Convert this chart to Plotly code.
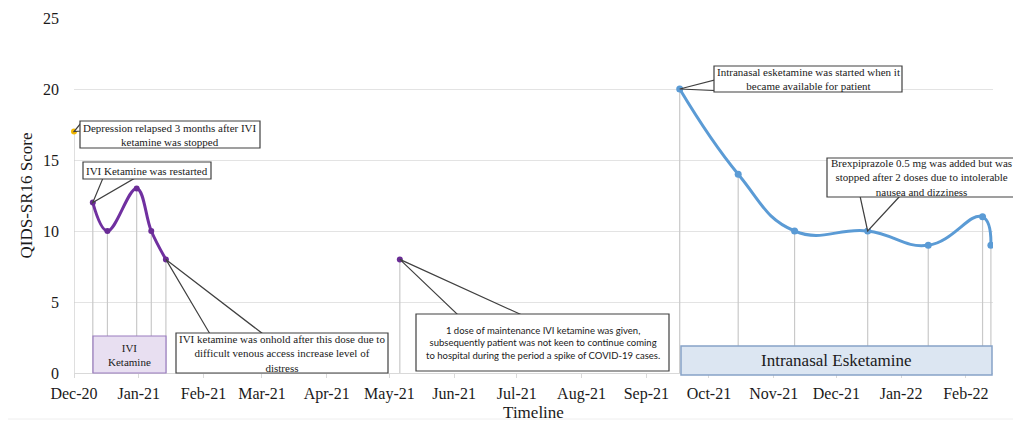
import plotly.graph_objects as go
import pandas as pd

# ---------------- data ----------------
relapse_dates = ["2020-12-01"]
relapse_scores = [17]

ivi_dates = ["2020-12-10", "2020-12-17", "2020-12-31", "2021-01-07", "2021-01-14"]
ivi_scores = [12, 10, 13, 10, 8]

maint_dates = ["2021-05-06"]
maint_scores = [8]

esk_dates = ["2021-09-17", "2021-10-15", "2021-11-11", "2021-12-16",
             "2022-01-14", "2022-02-09", "2022-02-13"]
esk_scores = [20, 14, 10, 10, 9, 11, 9]

tick_dates = ["2020-12-01", "2021-01-01", "2021-02-01", "2021-03-01", "2021-04-01",
              "2021-05-01", "2021-06-01", "2021-07-01", "2021-08-01", "2021-09-01",
              "2021-10-01", "2021-11-01", "2021-12-01", "2022-01-01", "2022-02-01"]
tick_labels = ["Dec-20", "Jan-21", "Feb-21", "Mar-21", "Apr-21", "May-21", "Jun-21",
               "Jul-21", "Aug-21", "Sep-21", "Oct-21", "Nov-21", "Dec-21", "Jan-22", "Feb-22"]

x_start, x_end = "2020-12-01", "2022-02-14"
y_max = 25

# ---------------- layout geometry (page pixels, page has 8px body margin) ----------------
OFF = 8
W, H = 1021 - OFF, 424 - OFF
PL, PR, PT, PB = 74, 993, 18, 373          # plot area in page pixels
L, T = PL - OFF, PT - OFF
R, B = W - (PR - OFF), H - (PB - OFF)
PW, PH = PR - PL, PB - PT

def px(xp):
    return (xp - PL) / PW

def py(yp):
    return (PB - yp) / PH

t0, t1 = pd.Timestamp(x_start), pd.Timestamp(x_end)
def dx(d):
    return (pd.Timestamp(d) - t0) / (t1 - t0)

def dy(v):
    return v / y_max

SERIF = "Liberation Serif"
TXT = "#1a1a1a"

fig = go.Figure()

# drop lines
all_d = relapse_dates + ivi_dates + maint_dates + esk_dates
all_v = relapse_scores + ivi_scores + maint_scores + esk_scores
fig.add_trace(go.Scatter(
    x=all_d, y=all_v, mode="markers", marker=dict(size=0.1, opacity=0),
    error_y=dict(type="data", symmetric=False, array=[0] * len(all_v), arrayminus=all_v,
                 color="#c9c9c9", thickness=1.2, width=0),
    hoverinfo="skip", showlegend=False, cliponaxis=False))

fig.add_trace(go.Scatter(x=relapse_dates, y=relapse_scores, mode="markers",
                         marker=dict(color="#f2b800", size=6), showlegend=False, cliponaxis=False))
fig.add_trace(go.Scatter(x=ivi_dates, y=ivi_scores, mode="lines+markers",
                         line=dict(color="#7030a0", width=3, shape="spline", smoothing=1.1),
                         marker=dict(color="#6a2c96", size=6), showlegend=False))
fig.add_trace(go.Scatter(x=maint_dates, y=maint_scores, mode="markers",
                         marker=dict(color="#6a2c96", size=6), showlegend=False))
fig.add_trace(go.Scatter(x=esk_dates, y=esk_scores, mode="lines+markers",
                         line=dict(color="#5b9bd5", width=3, shape="spline", smoothing=1.3),
                         marker=dict(color="#5b9bd5", size=7), showlegend=False))

shapes = []
annotations = []

# faint chart frame (left and bottom edges visible in the reference)
shapes.append(dict(type="line", xref="paper", yref="paper", x0=px(3), x1=px(3), y0=py(419), y1=py(0),
                   line=dict(color="#eeeeee", width=1)))
shapes.append(dict(type="line", xref="paper", yref="paper", x0=px(3), x1=px(1021), y0=py(419), y1=py(419),
                   line=dict(color="#eeeeee", width=1)))

def box(x0, y0, x1, y1, fill, line, lw=1.2):
    shapes.append(dict(type="rect", xref="paper", yref="paper",
                       x0=px(x0), x1=px(x1), y0=py(y1), y1=py(y0),
                       fillcolor=fill, line=dict(color=line, width=lw), layer="above"))

def wedge(tip_d, tip_v, b1, b2):
    tx, ty = dx(tip_d), dy(tip_v)
    path = (f"M{tx},{ty} L{px(b1[0])},{py(b1[1])} L{px(b2[0])},{py(b2[1])} Z")
    shapes.append(dict(type="path", xref="paper", yref="paper", path=path,
                       fillcolor="white", line=dict(color="#404040", width=1.2), layer="above"))

def text(x0, y0, x1, y1, s, size, family=SERIF):
    annotations.append(dict(xref="paper", yref="paper", x=px((x0 + x1) / 2), y=py((y0 + y1) / 2),
                            text=s, showarrow=False, xanchor="center", yanchor="middle",
                            align="center", font=dict(family=family, size=size, color=TXT)))

CB = "#404040"
# Depression relapsed
wedge(relapse_dates[0], relapse_scores[0], (81, 123), (81, 131))
box(80, 121, 260, 148, "white", CB)
text(80, 121, 260, 148, "Depression relapsed 3 months after IVI<br>ketamine was stopped", 11)
# Restarted
wedge(ivi_dates[0], ivi_scores[0], (103, 178), (135, 178))
box(83, 162, 211, 179, "white", CB)
text(83, 162, 211, 179, "IVI Ketamine was restarted", 11)
# IVI Ketamine band
box(93, 336, 166, 373, "#e8dff1", "#9a7cc0")
text(93, 336, 166, 373, "IVI<br>Ketamine", 11)
# Onhold
wedge(ivi_dates[-1], ivi_scores[-1], (210, 334), (263, 334))
box(176, 333, 388, 373, "white", CB)
text(176, 333, 388, 373, "IVI ketamine was onhold after this dose due to<br>difficult venous access increase level of<br>distress", 11)
# Maintenance
wedge(maint_dates[0], maint_scores[0], (458, 315), (522, 315))
box(416, 314, 669, 371, "white", CB)
text(416, 314, 669, 371, "1 dose of maintenance IVI ketamine was given,<br>subsequently patient was not keen to continue coming<br>to hospital during the period a spike of COVID-19 cases.", 9.5, "Lato")
# Intranasal band
box(681, 346, 992, 375, "#dce6f2", "#86a3c8", 1.5)
text(681, 346, 992, 375, "Intranasal Esketamine", 17)
# Started
wedge(esk_dates[0], esk_scores[0], (715, 80), (728, 91))
box(714, 66, 902, 92, "white", CB)
text(714, 66, 902, 92, "Intranasal esketamine was started when it<br>became available for patient", 11)
# Brexpiprazole
wedge(esk_dates[3], esk_scores[3], (860, 196), (900, 196))
box(827, 158, 1015, 197, "white", CB)
text(827, 158, 1015, 197, "Brexpiprazole 0.5 mg was added but was<br>stopped after 2 doses due to intolerable<br>nausea and dizziness", 11)

fig.update_layout(
    width=W, height=H, margin=dict(l=L, r=R, t=T, b=B, autoexpand=False),
    paper_bgcolor="white", plot_bgcolor="white",
    shapes=shapes, annotations=annotations,
    xaxis=dict(type="date", range=[x_start, x_end], tickvals=tick_dates, ticktext=tick_labels,
               automargin=False,
               showgrid=False, zeroline=False, showline=True, linecolor="#d9d9d9", linewidth=1,
               ticks="outside", ticklen=4, tickcolor="#d9d9d9", ticklabelstandoff=2,
               tickfont=dict(family=SERIF, size=16, color=TXT),
               title=dict(text="Timeline", font=dict(family=SERIF, size=17, color=TXT), standoff=0)),
    yaxis=dict(range=[0, y_max], tickvals=[0, 5, 10, 15, 20, 25], automargin=False,
               showgrid=True, gridcolor="#e3e3e3", gridwidth=1, zeroline=False, showline=False,
               ticks="", ticklabelstandoff=14,
               tickfont=dict(family=SERIF, size=16, color=TXT),
               title=dict(text="QIDS-SR16 Score", font=dict(family=SERIF, size=17, color=TXT), standoff=6)),
)

fig.write_html("out.html")
